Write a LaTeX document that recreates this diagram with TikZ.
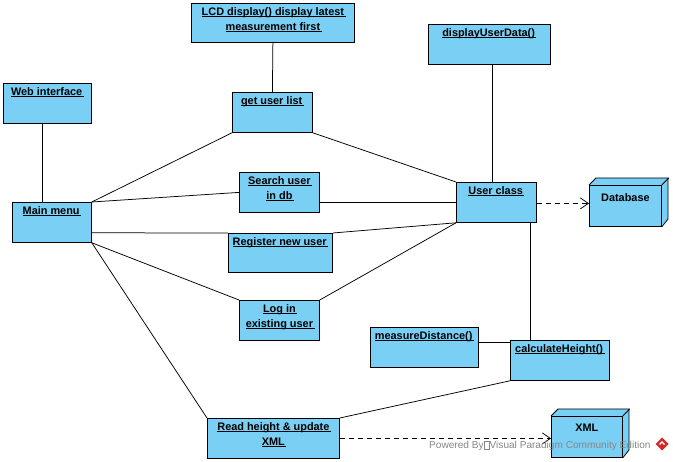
\documentclass[tikz,border=0pt]{standalone}
\usepackage{fontspec}
\setmainfont{Liberation Sans}
\usetikzlibrary{arrows.meta,calc}
\definecolor{boxblue}{RGB}{122,207,245}
\definecolor{wmgray}{RGB}{135,135,135}
\definecolor{logored}{RGB}{214,40,40}
\newlength\ulw
\newcommand\uln[1]{\settowidth\ulw{#1}\addtolength\ulw{1.5pt}\rlap{\rule[-1.8pt]{\ulw}{0.7pt}}#1\hspace{1.5pt}}
\newcommand\ubox[6]{%
  \node[box, minimum width=#4pt, minimum height=#5pt] (#1) at (#2,#3) {};
  \node[lbl] (#1-t) at ($(#1.north)+(0,4.2)$) {#6};}
\newcommand\nbox[6]{%
  \fill[boxblue] (#2,#3) -- ++(7,-7) -- ++(#4,0) -- ++(0,#5) -- ++(-7,7) -- cycle;
  \node[box, minimum width=#4pt, minimum height=#5pt] (#1) at (#2,#3) {};
  \draw[edge] (#1.north west) -- ++(7,-7) -- ++(#4,0) -- ++(0,#5) -- (#1.south east);
  \draw[edge] (#1.north east) -- ++(7,-7);
  \node[lbl] (#1-t) at ($(#1.north)+(0,8)$) {#6};}
\begin{document}
\begin{tikzpicture}[x=1pt,y=-1pt,
  box/.style={draw, fill=boxblue, line width=0.8pt, inner sep=0pt, anchor=north west},
  lbl/.style={font=\fontsize{10.9}{15}\selectfont\bfseries, align=center, inner sep=0pt, anchor=north},
  edge/.style={line width=0.8pt, line join=miter},
  conn/.style={line width=0.75pt},
  dep/.style={line width=0.75pt, dash pattern=on 5pt off 4pt, -{Straight Barb[length=8pt,width=11pt,line width=0.75pt]}}]
\useasboundingbox (0,0) rectangle (673,462);
\fill[white] (0,0) rectangle (673,462);

\ubox{lcd}{191}{3}{163}{39}{\uln{LCD display() display latest}\\\uln{measurement first}}
\ubox{web}{3}{83}{88}{40}{\uln{Web interface}}
\ubox{glist}{232}{92}{80}{40}{\uln{get user list}}
\ubox{search}{239}{172}{80}{40}{\uln{Search user}\\\uln{in db}}
\ubox{main}{12}{202}{79}{40}{\uln{Main menu}}
\ubox{reg}{228}{233}{104}{39}{\uln{Register new user}}
\ubox{login}{239}{300}{80}{40}{\uln{Log in}\\\uln{existing user}}
\ubox{disp}{428}{24}{122}{40}{\uln{displayUserData()}}
\ubox{user}{456}{182}{80}{40}{\uln{User class}}
\ubox{meas}{370}{327}{108}{40}{\uln{measureDistance()}}
\ubox{calc}{510}{340}{99}{40}{\uln{calculateHeight()}}
\ubox{read}{207}{418}{132}{40}{\uln{Read height \& update}\\\uln{XML}}
\nbox{db}{589}{185}{72}{41}{Database}
\nbox{xml}{551}{416}{71}{41}{XML}

% connectors
\draw[conn] (lcd.south) -- (glist.north);
\draw[conn] ([xshift=-5pt]web.south) -- ([xshift=-5pt]web.south |- main.north);
\draw[conn] (main.north east) -- (glist.south west);
\draw[conn] (main.north east) -- (search.west);
\draw[conn] ([yshift=10pt]main.south east) -- (reg.north west);
\draw[conn] (reg.north east) -- (user.south west);
\draw[conn] (main.south east) -- (login.north west);
\draw[conn] (main.south east) -- (read.north west);
\draw[conn] (glist.south east) -- (user.north west);
\draw[conn] (user.west -| search.east) -- (user.west);
\draw[conn] (login.north east) -- (user.south west);
\draw[conn] ([xshift=3pt]disp.south) -- ([xshift=3pt]disp.south |- user.north);
\draw[conn] ([xshift=-6pt]user.south east) -- ([xshift=-6pt]user.south east |- calc.north);
\draw[conn] ([yshift=5pt]meas.east) -- ([yshift=5pt]meas.east -| calc.west);
\draw[conn] (read.north east) -- (calc.south west);
\draw[dep] ([yshift=-1pt]user.east) -- ([yshift=-1pt]user.east -| db.west);
\draw[dep] (read.east) -- (read.east -| xml.west);

% watermark
\node[font=\fontsize{10.1}{11}\selectfont, text=wmgray, inner sep=0pt, anchor=base west] (wm) at (429,449)
  {Powered By{\setlength\fboxsep{0pt}\setlength\fboxrule{0.5pt}\fbox{\rule{0pt}{7pt}\hspace{5pt}}}Visual Paradigm Community Edition};
\fill[logored] (662,437.5) -- (668.5,444) -- (662,450.5) -- (655.5,444) -- cycle;
\draw[white, line width=1.2pt] (659.5,444.5) -- (662,442) -- (664.5,444.5);
\end{tikzpicture}
\end{document}
